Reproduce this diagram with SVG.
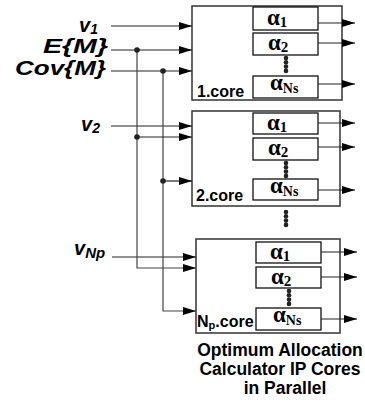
<svg xmlns="http://www.w3.org/2000/svg" width="365" height="403" viewBox="0 0 365 403">
<style>
.core{fill:#fff;stroke:#333;stroke-width:1.5}
.ab{fill:#fff;stroke:#111;stroke-width:1.3}
.ln{fill:none;stroke:#222;stroke-width:1.2}
.vl{fill:none;stroke:#444;stroke-width:1.2}
.al{font-family:"Liberation Serif",serif;font-weight:bold;font-size:23px;fill:#000}
.sub{font-size:15px}
.cl{font-family:"Liberation Sans",Arial,sans-serif;font-weight:bold;font-size:16px;fill:#000}
.in{font-family:"Liberation Sans",Arial,sans-serif;font-weight:bold;font-style:italic;font-size:20px;fill:#000}
.cap{font-family:"Liberation Sans",Arial,sans-serif;font-weight:bold;font-size:17.5px;fill:#000;text-anchor:middle}
.dot{fill:#222}
</style>
<defs>
<marker id="ah" viewBox="0 0 13 8" refX="13" refY="4" markerWidth="13" markerHeight="8" markerUnits="userSpaceOnUse" orient="auto"><path d="M0,0 L13,4 L0,8 z" fill="#000"/></marker>
<g id="ell"><circle cx="0" cy="0" r="2.3"/><circle cx="0" cy="4.3" r="2.3"/><circle cx="0" cy="8.6" r="2.3"/><circle cx="0" cy="12.9" r="2.3"/></g>
</defs>

<g id="inputs">
<text class="in" x="79" y="32" font-size="26">v<tspan font-size="14" dy="2">1</tspan></text>
<text class="in" x="43" y="53" textLength="65" lengthAdjust="spacingAndGlyphs">E{M}</text>
<text class="in" x="15" y="75" textLength="91" lengthAdjust="spacingAndGlyphs">Cov{M}</text>
<text class="in" x="81" y="131" font-size="26">v<tspan font-size="14" dy="2">2</tspan></text>
<text class="in" x="74" y="255" font-size="26">v<tspan font-size="15" dy="3">Np</tspan></text>
</g>

<g id="core1">
<rect class="core" x="192" y="6" width="150" height="94"/>
<rect class="ab" x="253" y="7" width="65" height="23"/>
<text class="al" x="267" y="25">α<tspan class="sub" dy="2">1</tspan></text>
<rect class="ab" x="253" y="33" width="65" height="22"/>
<text class="al" x="268" y="50">α<tspan class="sub" dy="2">2</tspan></text>
<use href="#ell" x="286" y="58" class="dot"/>
<rect class="ab" x="253" y="76" width="65" height="22"/>
<text class="al" x="270" y="90">α<tspan font-size="14" dy="3">Ns</tspan></text>
<text class="cl" x="197" y="97">1.core</text>
</g>

<g id="core2">
<rect class="core" x="192" y="111" width="148" height="95"/>
<rect class="ab" x="253" y="113" width="65" height="21"/>
<text class="al" x="267" y="130">α<tspan class="sub" dy="2">1</tspan></text>
<rect class="ab" x="253" y="138" width="65" height="22"/>
<text class="al" x="268" y="155">α<tspan class="sub" dy="2">2</tspan></text>
<use href="#ell" x="286" y="163" class="dot"/>
<rect class="ab" x="253" y="179" width="65" height="21"/>
<text class="al" x="270" y="193">α<tspan font-size="14" dy="3">Ns</tspan></text>
<text class="cl" x="196" y="201">2.core</text>
</g>

<g id="gap-dots">
<use href="#ell" x="286" y="212" class="dot"/>
</g>

<g id="core3">
<rect class="core" x="196" y="239" width="144" height="94"/>
<rect class="ab" x="256" y="242" width="65" height="21"/>
<text class="al" x="270" y="259">α<tspan class="sub" dy="2">1</tspan></text>
<rect class="ab" x="256" y="267" width="65" height="21"/>
<text class="al" x="271" y="284">α<tspan class="sub" dy="2">2</tspan></text>
<use href="#ell" x="289" y="291" class="dot"/>
<rect class="ab" x="256" y="308" width="65" height="22"/>
<text class="al" x="273" y="322">α<tspan font-size="14" dy="3">Ns</tspan></text>
<text class="cl" x="197" y="327">N<tspan font-size="11" dy="2">p</tspan><tspan dy="-2">.core</tspan></text>
</g>

<g id="connectors">
<line class="ln" x1="111" y1="26" x2="192" y2="26" marker-end="url(#ah)"/>
<line class="ln" x1="111" y1="50" x2="192" y2="50" marker-end="url(#ah)"/>
<line class="ln" x1="111" y1="71" x2="192" y2="71" marker-end="url(#ah)"/>
<line class="ln" x1="111" y1="126" x2="192" y2="126" marker-end="url(#ah)"/>
<line class="ln" x1="112" y1="257" x2="196" y2="257" marker-end="url(#ah)"/>
<polyline class="vl" points="137,50 137,268 196,268" marker-end="url(#ah)"/>
<polyline class="vl" points="163,71 163,311 196,311" marker-end="url(#ah)"/>
<line class="ln" x1="137" y1="137" x2="192" y2="137" marker-end="url(#ah)"/>
<line class="ln" x1="163" y1="181" x2="192" y2="181" marker-end="url(#ah)"/>
<circle class="dot" cx="137" cy="50" r="2.8"/>
<circle class="dot" cx="163" cy="71" r="2.8"/>
<circle class="dot" cx="137" cy="137" r="2.8"/>
<circle class="dot" cx="163" cy="181" r="2.8"/>
<line class="ln" x1="318" y1="23" x2="355" y2="23" marker-end="url(#ah)"/>
<line class="ln" x1="318" y1="43" x2="355" y2="43" marker-end="url(#ah)"/>
<line class="ln" x1="318" y1="84" x2="355" y2="84" marker-end="url(#ah)"/>
<line class="ln" x1="318" y1="123" x2="355" y2="123" marker-end="url(#ah)"/>
<line class="ln" x1="318" y1="147" x2="355" y2="147" marker-end="url(#ah)"/>
<line class="ln" x1="318" y1="190" x2="355" y2="190" marker-end="url(#ah)"/>
<line class="ln" x1="321" y1="252" x2="357" y2="252" marker-end="url(#ah)"/>
<line class="ln" x1="321" y1="277" x2="357" y2="277" marker-end="url(#ah)"/>
<line class="ln" x1="321" y1="319" x2="357" y2="319" marker-end="url(#ah)"/>
</g>

<g id="caption">
<text class="cap" x="280" y="356">Optimum Allocation</text>
<text class="cap" x="280" y="375">Calculator IP Cores</text>
<text class="cap" x="285" y="394">in Parallel</text>
</g>
</svg>
